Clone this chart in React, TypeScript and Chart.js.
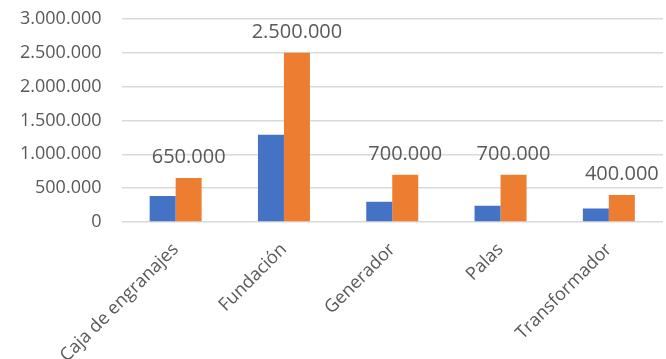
import React, { useEffect, useRef } from "react";
import { Chart, registerables } from "chart.js";

Chart.register(...registerables);

const categories = ["Caja de engranajes", "Fundación", "Generador", "Palas", "Transformador"];
const seriesBlue = [385000, 1290000, 300000, 240000, 200000];
const seriesOrange = [650000, 2500000, 700000, 700000, 400000];
const yTicks = [0, 500000, 1000000, 1500000, 2000000, 2500000, 3000000];

const FONT = "'Open Sans', 'DejaVu Sans', sans-serif";
const GRAY = "#595959";

const fmt = (v: number) => String(Math.round(v)).replace(/\B(?=(\d{3})+(?!\d))/g, ".");

const labelPlugin = {
  id: "orangeLabels",
  afterDatasetsDraw(chart: any) {
    const ctx = chart.ctx;
    const meta = chart.getDatasetMeta(1);
    ctx.save();
    ctx.font = `20px ${FONT}`;
    ctx.fillStyle = GRAY;
    ctx.textAlign = "center";
    ctx.textBaseline = "alphabetic";
    meta.data.forEach((bar: any, i: number) => {
      ctx.fillText(fmt(seriesOrange[i]), bar.x, bar.y - 15);
    });
    ctx.restore();
  },
};

export default function App() {
  const ref = useRef<HTMLCanvasElement>(null);
  useEffect(() => {
    document.body.style.margin = "0";
    const chart = new Chart(ref.current!, {
      type: "bar",
      data: {
        labels: categories,
        datasets: [
          { data: seriesBlue, backgroundColor: "#4472C4", categoryPercentage: 0.48, barPercentage: 1 },
          { data: seriesOrange, backgroundColor: "#ED7D31", categoryPercentage: 0.48, barPercentage: 1 },
        ],
      },
      options: {
        animation: false,
        responsive: false,
        maintainAspectRatio: false,
        layout: { padding: { top: 8, right: 3, left: 0, bottom: 0 } },
        plugins: { legend: { display: false }, tooltip: { enabled: false } },
        scales: {
          x: {
            grid: { display: false },
            border: { display: false },
            afterFit: (axis: any) => {
              axis.height = 137;
            },
            ticks: {
              color: GRAY,
              font: { family: FONT, size: 18 },
              minRotation: 45,
              maxRotation: 45,
              padding: 9,
            },
          },
          y: {
            min: 0,
            max: 3000000,
            afterBuildTicks: (axis: any) => {
              axis.ticks = yTicks.map((v) => ({ value: v }));
            },
            afterFit: (axis: any) => {
              axis.paddingTop = 19;
              axis.paddingBottom = 11;
            },
            grid: { color: "#d9d9d9", lineWidth: 1.5, drawTicks: false },
            border: { display: false },
            ticks: {
              color: GRAY,
              font: { family: FONT, size: 18 },
              padding: 20,
              callback: (v: any) => fmt(Number(v)),
            },
          },
        },
      },
      plugins: [labelPlugin],
    });
    return () => chart.destroy();
  }, []);
  return (
    <div style={{ position: "absolute", left: 0, top: 0, width: 666, height: 359 }}>
      <canvas ref={ref} width={666} height={359} style={{ width: 666, height: 359 }} />
    </div>
  );
}
